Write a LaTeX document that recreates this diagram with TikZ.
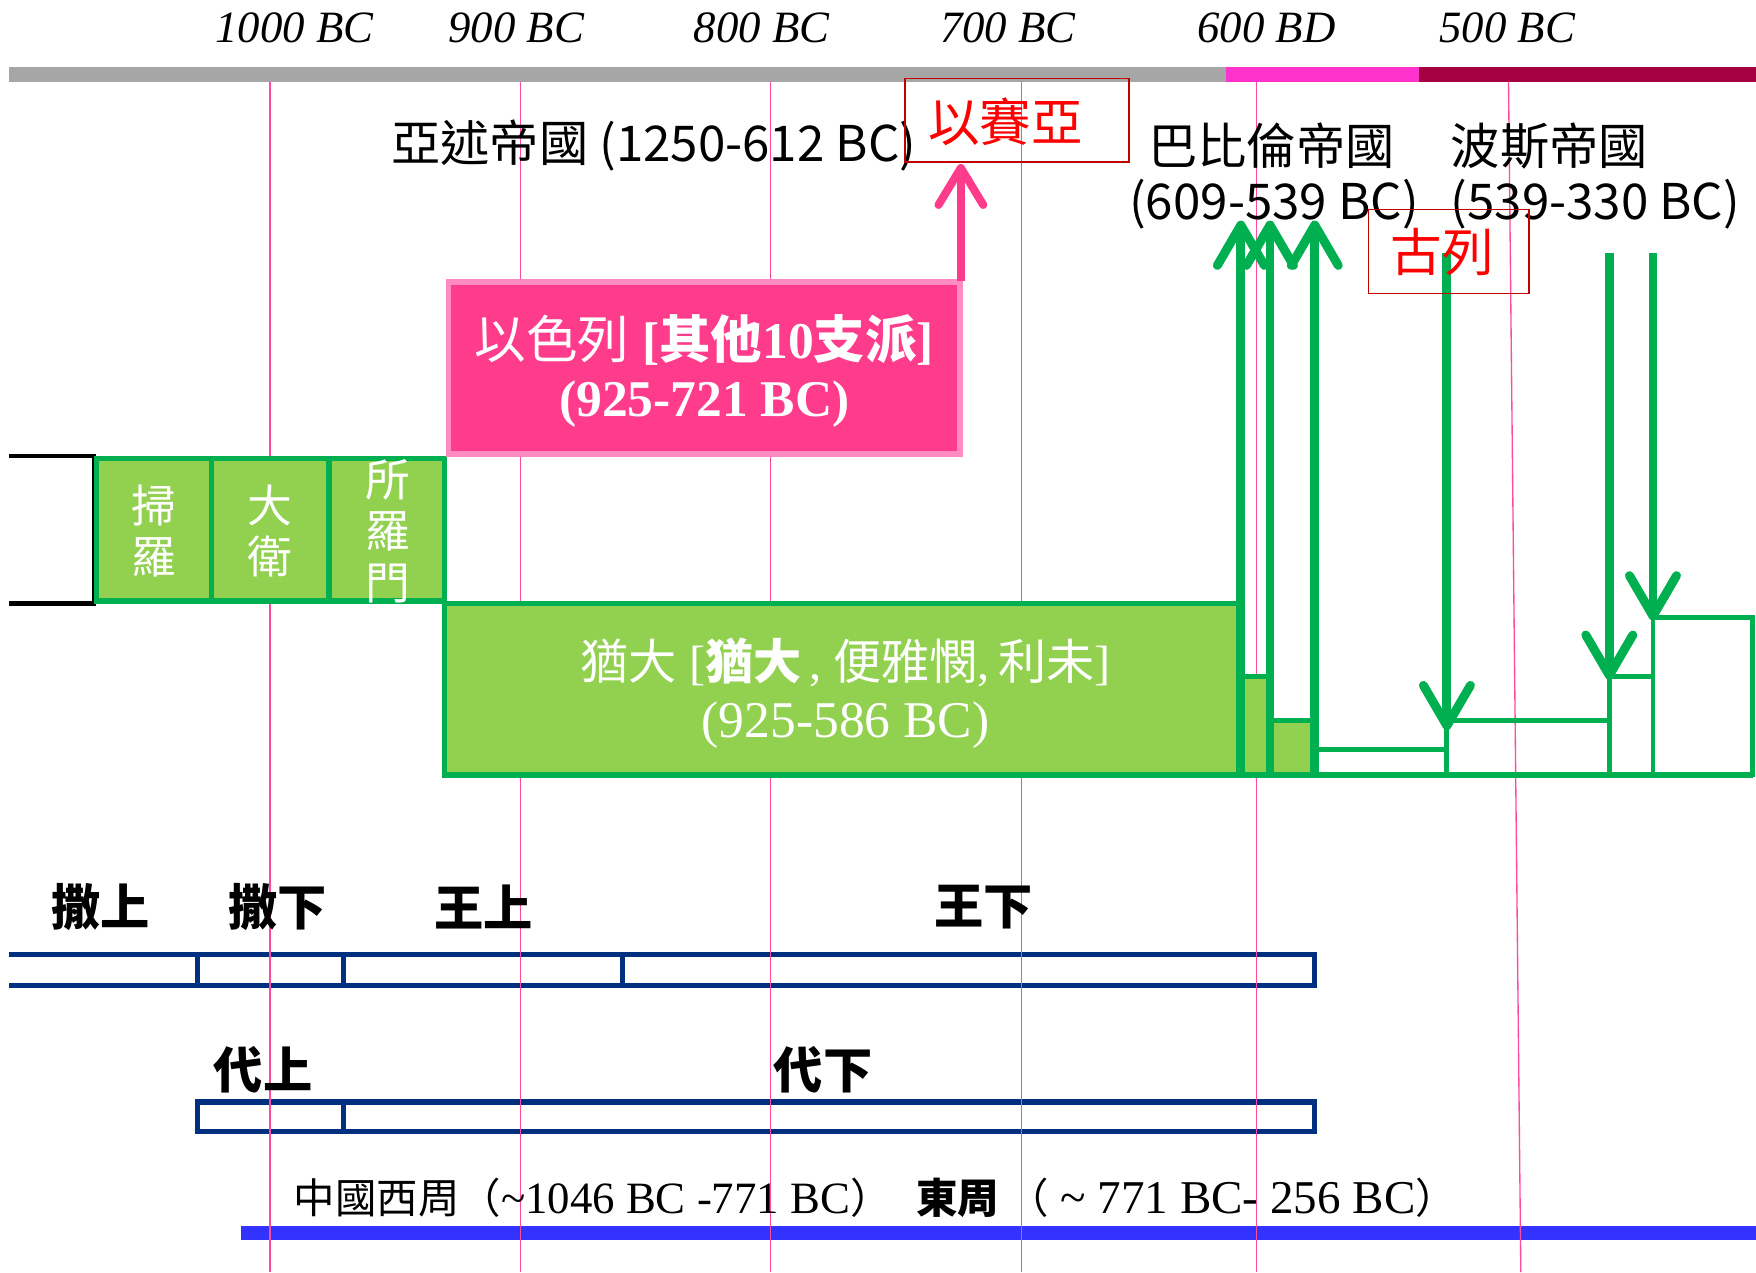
\documentclass[tikz,border=0pt]{standalone}
\usepackage{fontspec}
\usetikzlibrary{arrows.meta}
\setmainfont{Liberation Serif}
\newfontfamily\cjk{Noto Sans CJK TC}
\definecolor{barGray}{HTML}{A6A6A6}
\definecolor{barMag}{HTML}{FF33CC}
\definecolor{barCrim}{HTML}{A5003F}
\definecolor{vPink}{HTML}{FF4A9E}
\definecolor{boxRed}{HTML}{C00000}
\definecolor{txtRed}{HTML}{FF0000}
\definecolor{isrFill}{HTML}{FF3B8B}
\definecolor{isrLine}{HTML}{FF8CC0}
\definecolor{gFill}{HTML}{92D050}
\definecolor{gLine}{HTML}{00B050}
\definecolor{navyLine}{HTML}{00307F}
\definecolor{zhouBlue}{HTML}{3333FF}
\begin{document}
\begin{tikzpicture}[x=0.5pt,y=-0.5pt,
  vline/.style={vPink, line width=0.6pt},
  yearlbl/.style={font=\fontsize{20}{24}\selectfont\itshape, inner sep=0pt},
  headlbl/.style={font=\cjk\fontsize{22}{26}\selectfont, inner sep=0pt, anchor=west},
  redlbl/.style={font=\cjk\fontsize{23}{26}\selectfont, text=txtRed, inner sep=0pt},
  redbox/.style={draw=boxRed, line width=0.8pt, inner sep=0pt},
  gbox/.style={draw=gLine, fill=gFill, line width=2.5pt, inner sep=0pt},
  wbox/.style={draw=gLine, line width=2.2pt},
  gfbox/.style={draw=gLine, fill=gFill, line width=2.2pt},
  isrbox/.style={draw=isrLine, fill=isrFill, line width=2.6pt, inner sep=0pt},
  kinglbl/.style={font=\cjk\fontsize{20}{22.5}\selectfont, text=white, align=center, inner sep=0pt},
  boxlbl/.style={text=white, align=center, inner sep=0pt},
  booklbl/.style={font=\cjk\bfseries\fontsize{22}{26}\selectfont, inner sep=0pt},
  navybar/.style={draw=navyLine, line width=2.3pt},
  gshaft/.style={gLine, line width=4pt},
  pshaft/.style={isrFill, line width=3.6pt},
  headup/.pic={\draw[line width=4pt, line cap=round, line join=round] (-21,36) -- (0,0) -- (21,36);},
  pheadup/.pic={\draw[line width=3.6pt, line cap=round, line join=round] (-20,33) -- (0,0) -- (20,33);}
]
\useasboundingbox (0,0) rectangle (1568,1136);
% top era bar
\fill[barGray] (8,60) rectangle (1095,73);
\fill[barMag] (1095,60) rectangle (1267,73);
\fill[barCrim] (1267,60) rectangle (1568,73);
% year labels
\node[yearlbl] (y1000) at (263,25) {1000 BC};
\node[yearlbl] (y900) at (461,25) {900 BC};
\node[yearlbl] (y800) at (680,25) {800 BC};
\node[yearlbl] (y700) at (900,25) {700 BC};
\node[yearlbl] (y600) at (1131,25) {600 BD};
\node[yearlbl] (y500) at (1346,25) {500 BC};
% book rows
\draw[navybar] (8,852) -- (1174,852) -- (1174,880) -- (8,880);
\foreach \x in {176,307,556} \draw[navybar] (\x,852) -- (\x,880);
\draw[navybar] (176,984) rectangle (1174,1010);
\draw[navybar] (307,984) -- (307,1010);
% Zhou bar
\fill[zhouBlue] (215,1095) rectangle (1568,1107);
% guide lines
\foreach \x in {241,465,688,912,1122} \draw[vline] (\x,73) -- (\x,1136);
\draw[vline] (1347,73) -- (1358,1136);
% united kingdom
\draw[black, line width=2pt] (8,407) -- (84,407) -- (84,539) -- (8,539);
\node[gbox, minimum width=51.5pt, minimum height=63.5pt] (saul) at (137.5,473) {};
\node[gbox, minimum width=52.5pt, minimum height=63.5pt] (david) at (241.5,473) {};
\node[gbox, minimum width=51.5pt, minimum height=63.5pt] (solomon) at (345.5,473) {};
\node[kinglbl] (saullbl) at (137,474) {掃\\羅};
\node[kinglbl] (davidlbl) at (241,474) {大\\衛};
\node[kinglbl, font=\cjk\fontsize{20}{23}\selectfont] (sollbl) at (346,474) {所\\羅\\門};
% Israel box
\node[isrbox, minimum width=228.5pt, minimum height=77pt] (isr) at (629,328.5) {};
\node[boxlbl, font=\fontsize{23}{26}\selectfont\bfseries] (isrlbl) at (629,331)
  {{\cjk\mdseries 以色列} [{\cjk 其他}10{\cjk 支派}]\\(925-721 BC)};
\coordinate (pa0) at (858,251);
\coordinate (pa1) at (858,150);
\draw[pshaft] (pa0) -- (pa1);
\pic[isrFill] at (pa1) {pheadup};
% Judah box
\node[gbox, minimum width=355.5pt, minimum height=76.5pt] (judah) at (752.5,615.5) {};
\node[boxlbl, font=\fontsize{23}{26}\selectfont] (judahlbl) at (755,619)
  {{\fontsize{21.5}{26}\selectfont{\cjk 猶大} [{\cjk\bfseries 猶大}\,, {\cjk 便雅憫},\,{\cjk 利未}]}\\(925-586 BC)};
% exile / return boxes
\draw[gfbox] (1108,604) rectangle (1134,692);
\draw[gfbox] (1134,643) rectangle (1174,692);
\draw[wbox] (1174,669) rectangle (1292,692);
\draw[wbox] (1292,643) rectangle (1437,692);
\draw[wbox] (1437,604) rectangle (1476,692);
\draw[wbox] (1476,551) rectangle (1565,692);
\draw[gLine, line width=2.5pt] (397,692) -- (1565,692);
% exile arrows
\coordinate (ua0) at (1108,692); \coordinate (ua1) at (1108,201);
\coordinate (ub0) at (1134,692); \coordinate (ub1) at (1134,201);
\coordinate (uc0) at (1174,692); \coordinate (uc1) at (1174,201);
\draw[gshaft] (ua0) -- (ua1);
\draw[gshaft] (ub0) -- (ub1);
\draw[gshaft] (uc0) -- (uc1);
\pic[gLine] at (ua1) {headup};
\pic[gLine] at (ub1) {headup};
\pic[gLine] at (uc1) {headup};
% return arrows
\coordinate (da0) at (1292,226); \coordinate (da1) at (1292,648);
\coordinate (db0) at (1437,226); \coordinate (db1) at (1437,603);
\coordinate (dc0) at (1476,226); \coordinate (dc1) at (1476,550);
\draw[gshaft] (da0) -- (da1);
\draw[gshaft] (db0) -- (db1);
\draw[gshaft] (dc0) -- (dc1);
\pic[gLine, rotate=180] at (da1) {headup};
\pic[gLine, rotate=180] at (db1) {headup};
\pic[gLine, rotate=180] at (dc1) {headup};
% empire labels
\node[headlbl] (assyria) at (349,130) {亞述帝國 (1250-612 BC)};
\node[headlbl] (babylon) at (1025,130) {巴比倫帝國};
\node[headlbl] (babyears) at (1008,182) {(609-539 BC)};
\node[headlbl] (persia) at (1295,130) {波斯帝國};
\node[headlbl] (peryears) at (1295,182) {(539-330 BC)};
% red boxes
\node[redbox, minimum width=100pt, minimum height=37.5pt] (isaiah) at (908,107.5) {};
\node[redlbl] (isaiahlbl) at (898,109) {以賽亞};
\node[redbox, minimum width=71.5pt, minimum height=37.5pt] (cyrus) at (1293.5,224.5) {};
\node[redlbl] (cyruslbl) at (1288,225) {古列};
% book labels
\node[booklbl] (sam1) at (90,810) {撒上};
\node[booklbl] (sam2) at (248,810) {撒下};
\node[booklbl] (kgs1) at (432,810) {王上};
\node[booklbl] (kgs2) at (878,810) {王下};
\node[booklbl] (chr1) at (235,955) {代上};
\node[booklbl] (chr2) at (735,955) {代下};
% Zhou label
\node[inner sep=0pt, anchor=west, font=\fontsize{20}{24}\selectfont] (zhou) at (262,1070)
  {{\cjk\fontsize{18.5}{22}\selectfont 中國西周（}\textasciitilde1046 BC -771 BC{\cjk\fontsize{18.5}{22}\selectfont ）\hspace{0.6em}\bfseries 東周}{\cjk\fontsize{18.5}{22}\selectfont \hspace{0.2em}（}{\fontsize{21}{24}\selectfont\ \textasciitilde{} 771 BC- 256 BC}{\cjk\fontsize{18.5}{22}\selectfont ）}};
\end{tikzpicture}
\end{document}
